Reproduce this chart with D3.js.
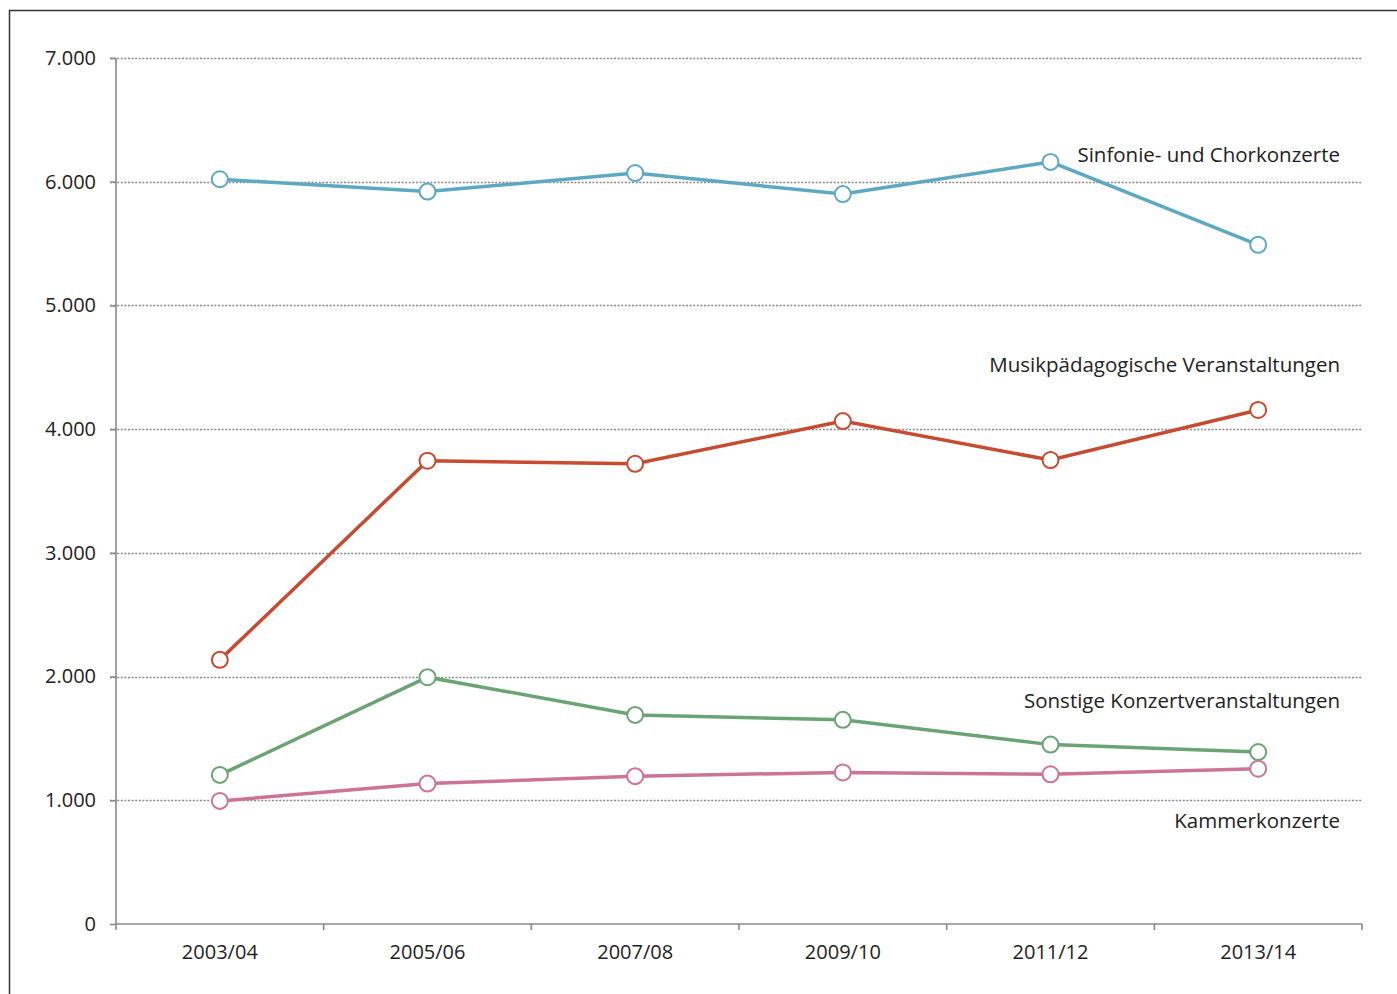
<!DOCTYPE html>
<html>
<head>
<meta charset="utf-8">
<script src="https://cdn.jsdelivr.net/npm/d3@7"></script>
<style>
    html, body { margin: 0; padding: 0; background: #fff; }
    svg { display: block; font-family: "Open Sans", "Noto Sans", sans-serif; }
</style>
</head>
<body>
<div id="chart"></div>
<script>
const seasons = ['2003/04', '2005/06', '2007/08', '2009/10', '2011/12', '2013/14'];
const yTicks = [0, 1000, 2000, 3000, 4000, 5000, 6000, 7000];

const seriesNames = [
    'Sinfonie- und Chorkonzerte',
    'Musikpädagogische Veranstaltungen',
    'Sonstige Konzertveranstaltungen',
    'Kammerkonzerte'
];
const sinfonie = [6020, 5920, 6070, 5900, 6160, 5490];
const musikpaed = [2135, 3745, 3720, 4065, 3750, 4155];
const sonstige = [1205, 1995, 1690, 1650, 1450, 1390];
const kammer = [995, 1135, 1195, 1225, 1210, 1255];
// value at which each series label sits
const labelValues = [6160, 4462, 1746, 776];
const colors = ['#5ea8c2', '#c64b30', '#6aa374', '#cc7496'];

const width = 1397, height = 994;
const margin = { left: 116, right: 35, top: 58, bottom: 70 };

const svg = d3.select('#chart').append('svg')
    .attr('width', width).attr('height', height);

// outer frame (runs off right and bottom edges)
svg.append('rect')
    .attr('x', 9.5).attr('y', 10.5)
    .attr('width', width + 20).attr('height', height + 20)
    .attr('fill', 'none').attr('stroke', '#333').attr('stroke-width', 1.5);

const x = d3.scaleBand().domain(seasons)
    .range([margin.left, width - margin.right]);
const y = d3.scaleLinear().domain([0, 7000])
    .range([height - margin.bottom, margin.top]);

const de = d3.formatLocale({ decimal: ',', thousands: '.', grouping: [3], currency: ['', ' €'] });
const fmt = de.format(',');

// grid
svg.append('g').selectAll('line').data(yTicks.filter(d => d > 0)).join('line')
    .attr('x1', margin.left - 6).attr('x2', width - margin.right)
    .attr('y1', d => Math.round(y(d)) + 0.5).attr('y2', d => Math.round(y(d)) + 0.5)
    .attr('stroke', '#888').attr('stroke-width', 1.3).attr('stroke-dasharray', '2,1.6');

// y axis
const yAxis = svg.append('g')
    .attr('transform', `translate(${margin.left},0)`)
    .call(d3.axisLeft(y).tickValues(yTicks).tickFormat(fmt).tickSize(6).tickPadding(14));
yAxis.select('.domain').attr('stroke', '#888').attr('stroke-width', 1.6).attr('d', `M0,${y(7000)}V${y(0)}`);
yAxis.selectAll('.tick line').attr('stroke', '#888').attr('stroke-width', 1.6);
yAxis.selectAll('.tick text').attr('font-size', 20).attr('fill', '#222')
    .attr('font-family', '"Open Sans", sans-serif');

// x axis
const xAxis = svg.append('g')
    .attr('transform', `translate(0,${y(0)})`)
    .call(d3.axisBottom(x).tickSize(0).tickPadding(21));
xAxis.select('.domain').attr('stroke', '#888').attr('stroke-width', 1.6)
    .attr('d', `M${x.range()[0]},0H${x.range()[1]}`);
xAxis.selectAll('.tick text').attr('font-size', 20).attr('fill', '#222')
    .attr('font-family', '"Open Sans", sans-serif');
const bounds = seasons.map(s => x(s)).concat([x.range()[1]]);
xAxis.selectAll('.bound').data(bounds).join('line')
    .attr('x1', d => d).attr('x2', d => d).attr('y1', 0).attr('y2', 6)
    .attr('stroke', '#888').attr('stroke-width', 1.6);

// series
const series = [sinfonie, musikpaed, sonstige, kammer].map((values, i) => ({
    name: seriesNames[i],
    color: colors[i],
    labelValue: labelValues[i],
    points: seasons.map((s, j) => ({ season: s, value: values[j] }))
}));

const line = d3.line()
    .x(d => x(d.season) + x.bandwidth() / 2)
    .y(d => y(d.value));

const groups = svg.append('g').selectAll('g').data(series).join('g');
groups.append('path')
    .attr('d', d => line(d.points))
    .attr('fill', 'none')
    .attr('stroke', d => d.color)
    .attr('stroke-width', 3.5);
groups.selectAll('circle').data(d => d.points.map(p => ({ ...p, color: d.color }))).join('circle')
    .attr('cx', d => x(d.season) + x.bandwidth() / 2)
    .attr('cy', d => y(d.value))
    .attr('r', 8)
    .attr('fill', '#fff')
    .attr('stroke', d => d.color)
    .attr('stroke-width', 2);

groups.append('text')
    .attr('x', width - margin.right - 22)
    .attr('y', d => y(d.labelValue))
    .attr('text-anchor', 'end')
    .attr('font-size', 20.5)
    .attr('fill', '#222')
    .text(d => d.name);
</script>
</body>
</html>
